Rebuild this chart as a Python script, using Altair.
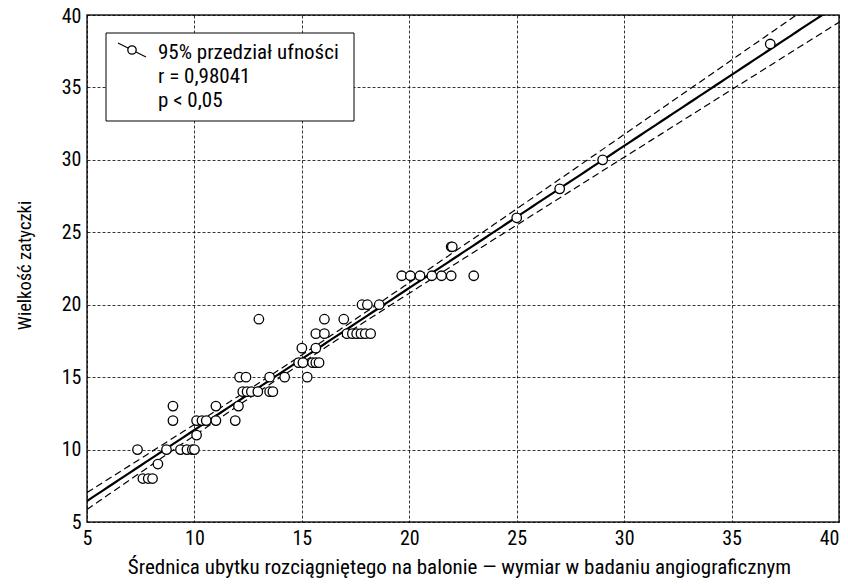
import altair as alt
import numpy as np
import pandas as pd

# Scatter data
x_vals = [7.35, 7.6, 7.85, 8.05, 8.3, 8.7, 9.0, 9.0, 9.35, 9.65, 9.9, 10.0,
          10.1, 10.1, 10.35, 10.55, 11.0, 11.0, 11.9, 12.05, 12.1, 12.4,
          12.25, 12.45, 12.65, 12.95, 13.0, 13.5, 13.5, 13.65, 14.2,
          14.85, 15.05, 15.0, 15.25, 15.5, 15.65, 15.8, 15.65, 15.65, 16.05,
          16.05, 16.95, 17.1, 17.35, 17.55, 17.75, 17.95, 18.2, 17.8, 18.05,
          18.6, 19.65, 20.05, 20.5, 21.05, 21.5, 21.95, 23.0, 21.95, 22.0,
          25.0, 27.0, 29.0, 36.8]
y_vals = [10, 8, 8, 8, 9, 10, 12, 13, 10, 10, 10, 10,
          11, 12, 12, 12, 12, 13, 12, 13, 15, 15,
          14, 14, 14, 14, 19, 15, 14, 14, 15,
          16, 16, 17, 15, 16, 16, 16, 17, 18, 18,
          19, 19, 18, 18, 18, 18, 18, 18, 20, 20,
          20, 22, 22, 22, 22, 22, 22, 22, 24, 24,
          26, 28, 30, 38]

x_ticks = [5, 10, 15, 20, 25, 30, 35, 40]
y_ticks = [5, 10, 15, 20, 25, 30, 35, 40]
legend_lines = ["95% przedział ufności", "r = 0,98041", "p < 0,05"]
x_title = "Średnica ubytku rozciągniętego na balonie — wymiar w badaniu angiograficznym"
y_title = "Wielkość zatyczki"

FONT = "Roboto Condensed, Noto Sans Condensed, Liberation Sans Narrow, Arial Narrow, Liberation Sans, sans-serif"

# Linear regression with 95% confidence band of the mean
xa = np.array(x_vals, float)
ya = np.array(y_vals, float)
n = len(xa)
xm, ym = xa.mean(), ya.mean()
sxx = ((xa - xm) ** 2).sum()
b = ((xa - xm) * (ya - ym)).sum() / sxx
a = ym - b * xm
s = np.sqrt(((ya - (a + b * xa)) ** 2).sum() / (n - 2))
t = 1.998
xs = np.linspace(5, 40, 141)
fit = a + b * xs
half = t * s * np.sqrt(1.0 / n + (xs - xm) ** 2 / sxx)
band = pd.DataFrame({"x": xs, "fit": fit, "lo": fit - half, "hi": fit + half})

pts = pd.DataFrame({"x": x_vals, "y": y_vals})

xscale = alt.Scale(domain=[5, 40], nice=False, zero=False)
yscale = alt.Scale(domain=[5, 40], nice=False, zero=False)

W, H = 752, 507

xaxis = alt.Axis(values=x_ticks, title=x_title, grid=True, ticks=False, domain=False,
                 labelFontSize=20, labelPadding=6, labelFont=FONT, labelColor="black",
                 labelAlign={"condition": {"test": "datum.value == 40", "value": "right"},
                             "value": "center"},
                 titleFont=FONT, titleFontSize=21, titleFontWeight="normal", titleColor="black",
                 titleX=372, titleY=45, titleBaseline="middle",
                 gridColor="black", gridDash=[3, 2], gridWidth=0.8, gridOpacity=1)
yaxis = alt.Axis(values=y_ticks, title=y_title, grid=True, ticks=False, domain=False,
                 labelFontSize=20, labelPadding=6, labelFont=FONT, labelColor="black",
                 labelOffset={"condition": {"test": "datum.value == 40", "value": 1.5},
                              "value": 0},
                 titleFont=FONT, titleFontSize=18.5, titleFontWeight="normal", titleColor="black",
                 titleX=-63, titleY=250, titleAngle=270, titleAlign="center",
                 titleBaseline="middle",
                 gridColor="black", gridDash=[3, 2], gridWidth=0.8, gridOpacity=1)

base = alt.Chart(band)
fit_line = base.mark_line(color="black", strokeWidth=2.2, clip=True).encode(
    x=alt.X("x:Q", scale=xscale, axis=xaxis),
    y=alt.Y("fit:Q", scale=yscale, axis=yaxis),
)
lo_line = base.mark_line(color="black", strokeWidth=1.2, strokeDash=[7, 4], clip=True).encode(
    x=alt.X("x:Q", scale=xscale), y=alt.Y("lo:Q", scale=yscale))
hi_line = base.mark_line(color="black", strokeWidth=1.2, strokeDash=[7, 4], clip=True).encode(
    x=alt.X("x:Q", scale=xscale), y=alt.Y("hi:Q", scale=yscale))

points = alt.Chart(pts).mark_point(shape="circle", size=90, filled=False, fill="white",
                                   fillOpacity=1, stroke="black", strokeWidth=1.3,
                                   opacity=1, clip=True).encode(
    x=alt.X("x:Q", scale=xscale), y=alt.Y("y:Q", scale=yscale))

one = alt.Data(values=[{"k": 1}])
box = alt.Chart(one).mark_rect(fill="white", stroke="black", strokeWidth=1).encode(
    x=alt.value(19), x2=alt.value(267), y=alt.value(18), y2=alt.value(106))
leg_rule = alt.Chart(one).mark_rule(color="black", strokeWidth=1.2).encode(
    x=alt.value(31), x2=alt.value(59), y=alt.value(28), y2=alt.value(42))
leg_pt = alt.Chart(one).mark_point(shape="circle", size=70, filled=False, fill="white",
                                   fillOpacity=1, stroke="black", strokeWidth=1.3,
                                   opacity=1).encode(x=alt.value(45), y=alt.value(35))
texts = []
for i, line in enumerate(legend_lines):
    texts.append(alt.Chart(one).mark_text(align="left", baseline="middle", fontSize=21,
                                          font=FONT, color="black").encode(
        x=alt.value(71), y=alt.value(38 + 24 * i), text=alt.value(line)))

chart = alt.layer(fit_line, lo_line, hi_line, points, box, leg_rule, leg_pt, *texts).properties(
    width=W, height=H,
    autosize=alt.AutoSizeParams(type="none"),
    padding={"left": 79, "top": 7, "right": 1, "bottom": 56},
    background="white",
).configure_view(stroke="#222", strokeWidth=1.5)

chart.save("out.html", embed_options={"renderer": "svg", "actions": False})
